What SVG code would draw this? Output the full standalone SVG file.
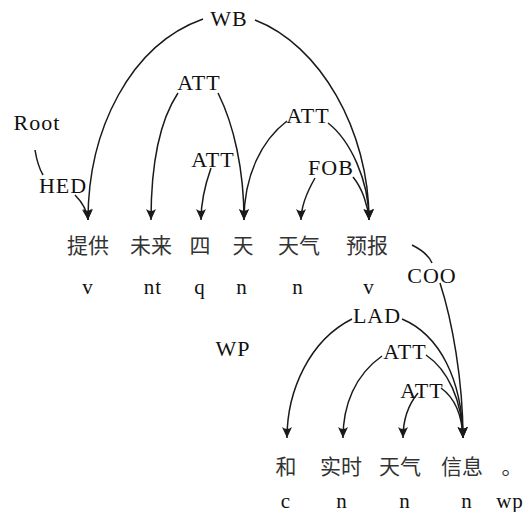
<svg xmlns="http://www.w3.org/2000/svg" width="526" height="512" viewBox="0 0 526 512">
<style>
.lbl{font-family:"Liberation Serif","DejaVu Serif",serif;font-size:22px;fill:#111;text-anchor:middle;letter-spacing:1px}
.pos{font-family:"Liberation Serif","DejaVu Serif",serif;font-size:21px;fill:#111;text-anchor:middle;letter-spacing:1px}
.zh{font-family:"Noto Sans CJK SC","Noto Sans",sans-serif;font-size:21px;fill:#333;text-anchor:middle}
.arc{fill:none;stroke:#1a1a1a;stroke-width:1.5}
.ah{marker-end:url(#arr)}
</style>
<defs>
<marker id="arr" markerUnits="userSpaceOnUse" markerWidth="14" markerHeight="14" viewBox="-12 -7 14 14" refX="0" refY="0" orient="auto">
<path d="M0,0 L-11,-5 Q-7,0 -11,5 Z" fill="#1a1a1a"/>
</marker>
</defs>
<rect width="526" height="512" fill="#fff"/>
<g id="connectors">
<path class="arc ah" d="M203,19 C130,45 88,130 88,220"/>
<path class="arc ah" d="M255,20 C320,45 369,130 369,220"/>
<path class="arc ah" d="M178,93 C160,120 151,160 151,220"/>
<path class="arc ah" d="M218,93 C234,125 244,170 244,220"/>
<path class="arc ah" d="M211,168 C205,185 201,200 201,220"/>
<path class="arc ah" d="M287,121 C262,140 244,175 244,220"/>
<path class="arc ah" d="M328,123 C350,140 369,180 369,220"/>
<path class="arc ah" d="M315,178 C307,192 301,205 301,220"/>
<path class="arc ah" d="M353,177 C362,188 368,205 369,220"/>
<path class="arc" d="M35,150 C37,162 40,170 43,175"/>
<path class="arc ah" d="M75,195 C82,202 87,210 88,220"/>
<path class="arc" d="M412,245 C422,250 429,256 432,263"/>
<path class="arc ah" d="M440,283 C452,320 463,380 463,438"/>
<path class="arc ah" d="M352,319 C310,340 287,390 287,438"/>
<path class="arc ah" d="M402,319 C440,335 462,380 463,438"/>
<path class="arc ah" d="M382,356 C355,375 343,405 343,438"/>
<path class="arc ah" d="M426,355 C448,370 462,400 463,438"/>
<path class="arc ah" d="M418,393 C408,405 403,420 403,438"/>
<path class="arc ah" d="M441,388 C455,398 462,415 463,438"/>
<text class="lbl" x="229" y="26">WB</text>
<text class="lbl" x="199" y="90">ATT</text>
<text class="lbl" x="37" y="130">Root</text>
<text class="lbl" x="213" y="167">ATT</text>
<text class="lbl" x="63" y="193">HED</text>
<text class="lbl" x="308" y="123">ATT</text>
<text class="lbl" x="331" y="175">FOB</text>
<text class="lbl" x="432" y="283">COO</text>
<text class="lbl" x="377" y="323">LAD</text>
<text class="lbl" x="405" y="359">ATT</text>
<text class="lbl" x="422" y="398">ATT</text>
<text class="lbl" x="233" y="356">WP</text>
</g>
<g id="w1"><text class="zh" x="88" y="253">提供</text><text class="pos" x="88" y="294">v</text></g>
<g id="w2"><text class="zh" x="151" y="253">未来</text><text class="pos" x="153" y="294">nt</text></g>
<g id="w3"><text class="zh" x="200" y="253">四</text><text class="pos" x="200" y="294">q</text></g>
<g id="w4"><text class="zh" x="243" y="253">天</text><text class="pos" x="242" y="294">n</text></g>
<g id="w5"><text class="zh" x="299" y="253">天气</text><text class="pos" x="298" y="294">n</text></g>
<g id="w6"><text class="zh" x="367" y="253">预报</text><text class="pos" x="369" y="294">v</text></g>
<g id="w7"><text class="zh" x="286" y="474">和</text><text class="pos" x="286" y="508">c</text></g>
<g id="w8"><text class="zh" x="341" y="474">实时</text><text class="pos" x="342" y="508">n</text></g>
<g id="w9"><text class="zh" x="400" y="474">天气</text><text class="pos" x="405" y="508">n</text></g>
<g id="w10"><text class="zh" x="462" y="474">信息</text><text class="pos" x="467" y="508">n</text></g>
<g id="w11"><text class="zh" x="512" y="474">。</text><text class="pos" x="510" y="508">wp</text></g>
</svg>
